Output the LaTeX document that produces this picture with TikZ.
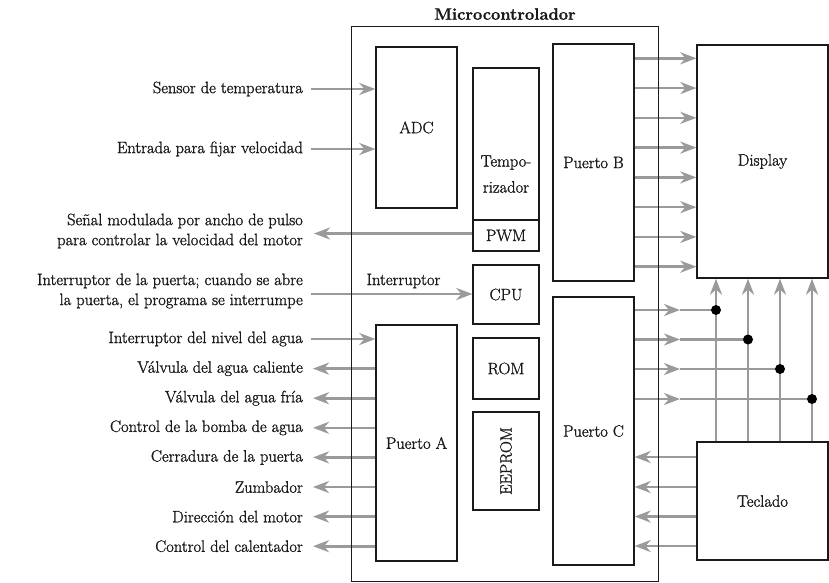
\documentclass[tikz,border=0pt]{standalone}
\usepackage{fontspec}
\setmainfont{Latin Modern Roman}[RawFeature={embolden=1.4}]
\usetikzlibrary{arrows.meta}
\definecolor{ag}{HTML}{9A9A9A}
\definecolor{bk}{HTML}{1A1A1A}
\begin{document}
\begin{tikzpicture}[x=1pt,y=-1pt,
  font=\fontsize{16.5}{20}\selectfont,
  box/.style={draw=bk, line width=1.3pt, inner sep=0pt, text=bk},
  gline/.style={draw=ag, line width=2.6pt},
  garrow/.style={gline, -{Stealth[length=16pt,width=12pt,inset=5pt]}},
  lab/.style={anchor=east, align=right, text=bk, inner sep=0pt},
  jdot/.style={circle, fill=black, inner sep=0pt, minimum size=10pt}]
\useasboundingbox (0,0) rectangle (829,582);

% outer microcontroller (outline drawn last, above the arrows)
\node[inner sep=0pt, minimum width=306pt, minimum height=554pt] (mc) at (505,304) {};
\node[font=\bfseries\fontsize{16.5}{20}\selectfont, text=bk] (title) at (505,14) {Microcontrolador};

% inner blocks
\node[box, minimum width=81pt, minimum height=161pt] (adc) at (416.5,127.5) {ADC};
\node[box, minimum width=66pt, minimum height=152pt] (tmp) at (506,144) {};
\node[align=center, text=bk, font=\fontsize{16.5}{26}\selectfont] (tmpt) at (506,174) {Tempo-\\rizador};
\node[box, minimum width=66pt, minimum height=31pt] (pwm) at (506,235.5) {PWM};
\node[box, minimum width=66pt, minimum height=59pt] (cpu) at (506,294.5) {CPU};
\node[box, minimum width=66pt, minimum height=61pt] (rom) at (506,368.5) {ROM};
\node[box, minimum width=66pt, minimum height=98pt] (eep) at (506,461) {};
\node[rotate=90, text=bk, inner sep=0pt] (eept) at (eep) {EEPROM};
\node[box, minimum width=81pt, minimum height=237pt] (pb) at (593.5,162.5) {Puerto B};
\node[box, minimum width=81pt, minimum height=268pt] (pc) at (593.5,431) {Puerto C};
\node[box, minimum width=81pt, minimum height=236pt] (pa) at (416.5,443) {Puerto A};

% external blocks
\node[box, minimum width=131pt, minimum height=233pt] (disp) at (762.5,161.5) {Display};
\node[box, minimum width=131pt, minimum height=118pt] (tec) at (762.5,501) {Teclado};

% left side: inputs to ADC
\node[lab] (l1) at (303,89) {Sensor de temperatura};
\coordinate (a1) at (311,89);
\draw[garrow] (a1) -- (adc.west |- a1);
\node[lab] (l2) at (303,149) {Entrada para fijar velocidad};
\coordinate (a2) at (311,149);
\draw[garrow] (a2) -- (adc.west |- a2);

% PWM output
\node[lab] (l3) at (303,231) {Señal modulada por ancho de pulso\\para controlar la velocidad del motor};
\coordinate (a3) at (314,233.5);
\draw[garrow] (pwm.west |- a3) -- (a3);

% interrupt
\node[lab] (l4) at (303,291) {Interruptor de la puerta; cuando se abre\\la puerta, el programa se interrumpe};
\coordinate (a4) at (311,294);
\draw[garrow] (a4) -- (cpu.west |- a4);
\node[text=bk, inner sep=0pt] (intl) at (403.5,281) {Interruptor};

% Puerto A lines
\node[lab] (p1) at (303,339) {Interruptor del nivel del agua};
\coordinate (q1) at (311,339);
\draw[garrow] (q1) -- (pa.west |- q1);
\foreach \yy/\txt [count=\i from 2] in {
  368.6/{Válvula del agua caliente},
  398.2/{Válvula del agua fría},
  427.8/{Control de la bomba de agua},
  457.4/{Cerradura de la puerta},
  487/{Zumbador},
  516.6/{Dirección del motor},
  546.2/{Control del calentador}} {
  \node[lab] (p\i) at (303,\yy) {\txt};
  \coordinate (q\i) at (313,\yy);
  \draw[garrow] (pa.west |- q\i) -- (q\i);
}

% Puerto B -> Display
\foreach \i in {0,...,7} {
  \coordinate (b\i) at (0,58.3+29.77*\i);
  \draw[garrow] (pb.east |- b\i) -- (disp.west |- b\i);
}

% Puerto C outputs to bus lines
\foreach \yy/\xx [count=\i] in {310/716, 339.5/748, 369/780, 399/812} {
  \coordinate (d\i) at (\xx,\yy);
  \coordinate (m\i) at (680,\yy);
  \draw[gline] (m\i) -- (d\i);
  \draw[garrow] (pc.east |- d\i) -- (m\i);
  \draw[garrow] (tec.north -| d\i) -- (disp.south -| d\i);
}
\foreach \i in {1,...,4} { \node[jdot] (j\i) at (d\i) {}; }

% Teclado -> Puerto C
\foreach \yy [count=\i] in {457, 487, 516.5, 546} {
  \coordinate (t\i) at (0,\yy);
  \draw[garrow] (tec.west |- t\i) -- (pc.east |- t\i);
}

% outer box outline on top
\draw[draw=bk, line width=1.3pt] (mc.south west) rectangle (mc.north east);
\end{tikzpicture}
\end{document}
